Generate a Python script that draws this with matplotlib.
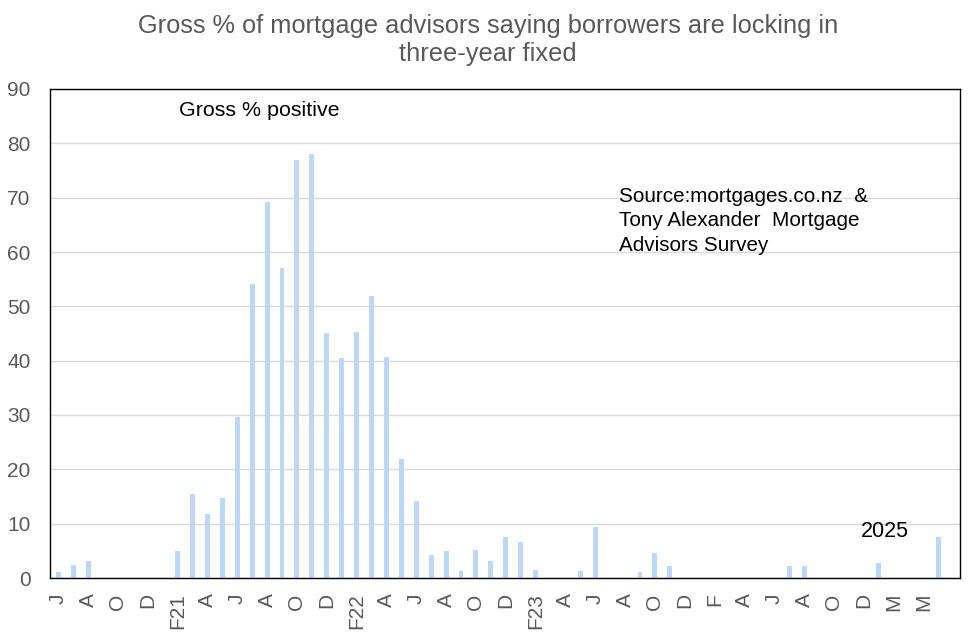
import matplotlib
matplotlib.use("Agg")
import matplotlib.pyplot as plt
import numpy as np

plt.rcParams['font.family'] = ['Liberation Sans', 'DejaVu Sans']

values = [1.1, 2.4, 3.1, 0, 0, 0, 0, 0, 5.0, 15.5,
          11.8, 14.7, 29.6, 54.1, 69.2, 57.1, 76.9, 78.0, 45.1, 40.5,
          45.3, 51.9, 40.7, 21.9, 14.2, 4.2, 5.0, 1.3, 5.2, 3.1,
          7.5, 6.6, 1.5, 0, 0, 1.3, 9.4, 0, 0, 1.1,
          4.6, 2.2, 0, 0, 0, 0, 0, 0, 0, 2.2,
          2.2, 0, 0, 0, 0, 2.8, 0, 0, 0, 7.5]
tick_labels = ['J', 'A', 'O', 'D', 'F21', 'A', 'J', 'A', 'O', 'D',
               'F22', 'A', 'J', 'A', 'O', 'D', 'F23', 'A', 'J', 'A',
               'O', 'D', 'F', 'A', 'J', 'A', 'O', 'D', 'M', 'M']
n_slots = 61

fig = plt.figure(figsize=(9.76, 6.37), dpi=100)
ax = fig.add_axes([50/976, 1-578/637, 910/976, (578-89)/637])

x = np.arange(len(values))
ax.bar(x, values, width=0.33, color='#BDD7F4', zorder=2)

ax.set_xlim(-0.55, n_slots - 0.55)
ax.set_ylim(0, 90)
ax.set_yticks(np.arange(0, 91, 10))
ax.set_xticks(np.arange(0, 2*len(tick_labels), 2))
ax.set_xticklabels(tick_labels, rotation=90)
ax.tick_params(axis='both', length=0, labelsize=15, labelcolor='#595959')
ax.tick_params(axis='y', pad=14)
ax.tick_params(axis='x', pad=11)
ax.grid(axis='y', color='#D9D9D9', linewidth=1.0, zorder=0)
ax.set_axisbelow(True)
for s in ax.spines.values():
    s.set_color('black')
    s.set_linewidth(1.0)

fig.text(0.5, 1-40/637, 'Gross % of mortgage advisors saying borrowers are locking in\nthree-year fixed',
         ha='center', va='center', fontsize=18.3, color='#595959', linespacing=1.2)

ax.text(8.08, 86.1, 'Gross % positive', ha='left', va='center', fontsize=15.4, color='black')
ax.text(37.57, 71.9, 'Source:mortgages.co.nz  &\nTony Alexander  Mortgage\nAdvisors Survey',
        ha='left', va='top', fontsize=14.9, color='black', linespacing=1.34)
ax.text(53.8, 8.65, '2025', ha='left', va='center', fontsize=15.5, color='black')

fig.savefig('out.png', dpi=100)
